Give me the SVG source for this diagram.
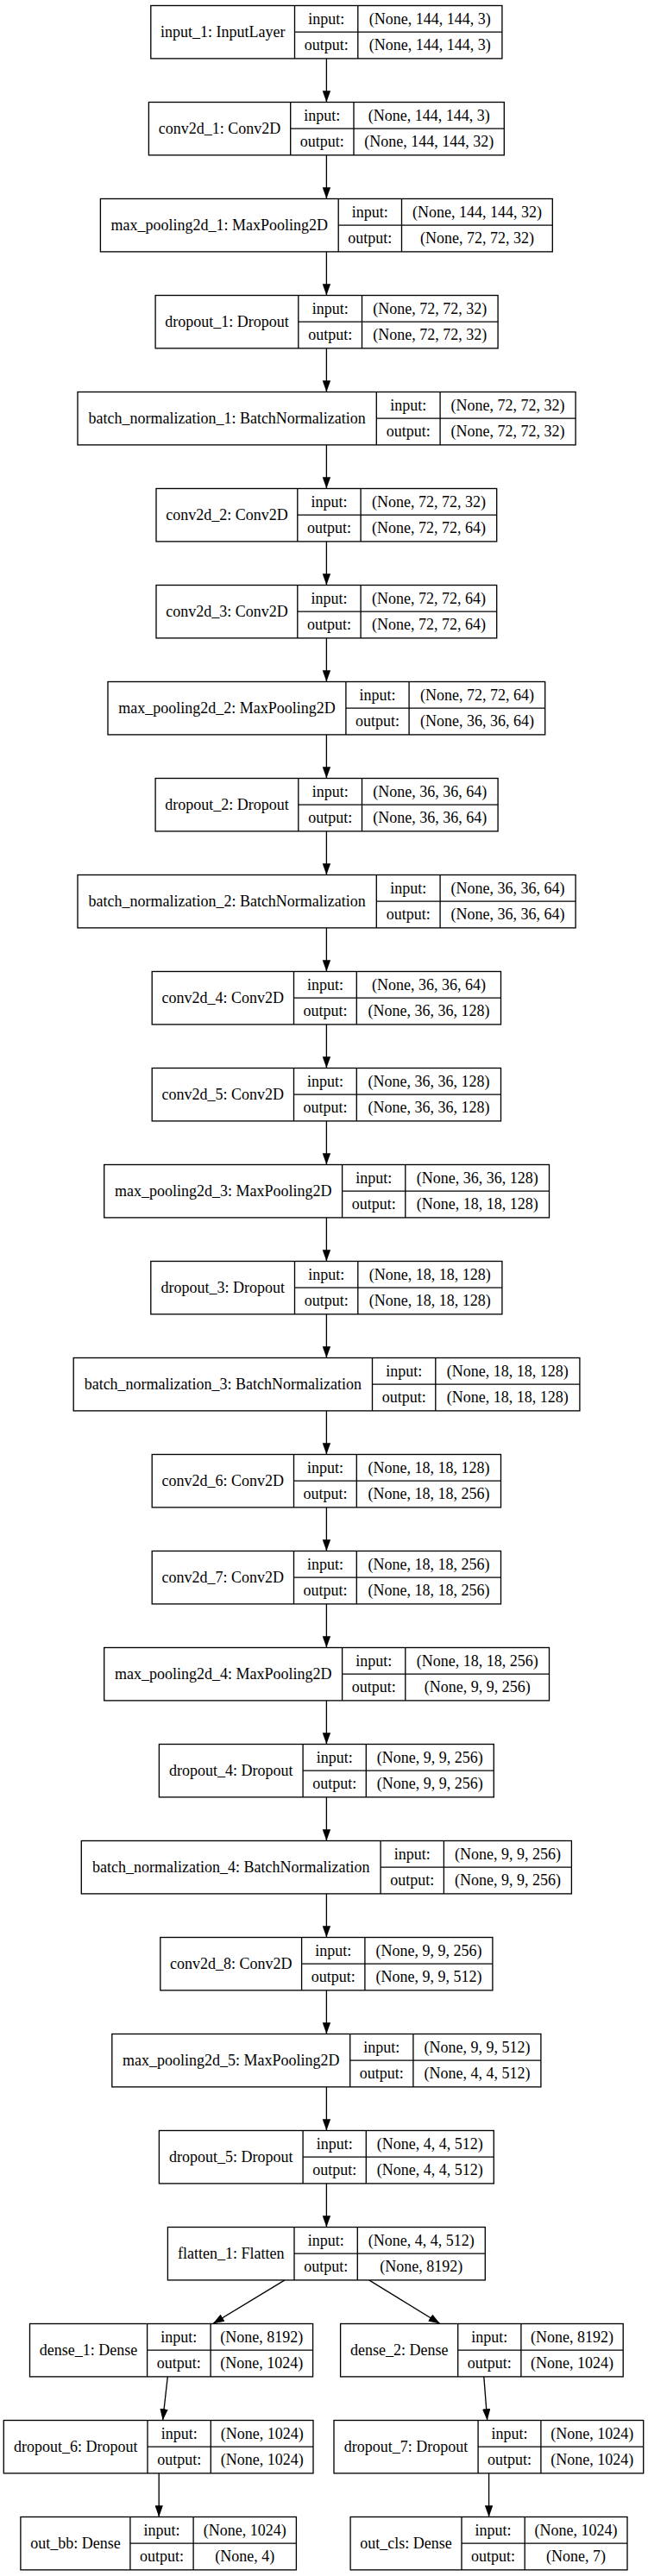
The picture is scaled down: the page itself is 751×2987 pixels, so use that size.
<svg xmlns="http://www.w3.org/2000/svg" width="751" height="2987" viewBox="0 0 751 2987">
<defs>
<style>
.b{fill:#fff;stroke:#000;stroke-width:1.33}
.l{fill:none;stroke:#000;stroke-width:1.33}
.t{font-family:"Liberation Serif","Times New Roman",serif;font-size:18px;text-anchor:middle;fill:#000}
.e{stroke:#000;stroke-width:1.33;fill:none;marker-end:url(#ah)}
</style>
<marker id="ah" markerUnits="userSpaceOnUse" markerWidth="13.3" markerHeight="9.4" refX="13.3" refY="4.7" orient="auto" viewBox="0 0 13.3 9.4"><path d="M0,0L13.3,4.7L0,9.4z" fill="#000"/></marker>
</defs>
<rect width="751" height="2987" fill="#fff"/>
<g id="connectors">
<line class="e" x1="378.4" y1="67.9" x2="378.4" y2="118.5"/>
<line class="e" x1="378.4" y1="179.9" x2="378.4" y2="230.5"/>
<line class="e" x1="378.4" y1="291.9" x2="378.4" y2="342.5"/>
<line class="e" x1="378.4" y1="403.9" x2="378.4" y2="454.5"/>
<line class="e" x1="378.4" y1="515.9" x2="378.4" y2="566.5"/>
<line class="e" x1="378.4" y1="627.9" x2="378.4" y2="678.5"/>
<line class="e" x1="378.4" y1="739.9" x2="378.4" y2="790.5"/>
<line class="e" x1="378.4" y1="851.9" x2="378.4" y2="902.5"/>
<line class="e" x1="378.4" y1="963.9" x2="378.4" y2="1014.5"/>
<line class="e" x1="378.4" y1="1075.9" x2="378.4" y2="1126.5"/>
<line class="e" x1="378.4" y1="1187.9" x2="378.4" y2="1238.5"/>
<line class="e" x1="378.4" y1="1299.9" x2="378.4" y2="1350.5"/>
<line class="e" x1="378.4" y1="1411.9" x2="378.4" y2="1462.5"/>
<line class="e" x1="378.4" y1="1523.9" x2="378.4" y2="1574.5"/>
<line class="e" x1="378.4" y1="1635.9" x2="378.4" y2="1686.5"/>
<line class="e" x1="378.4" y1="1747.9" x2="378.4" y2="1798.5"/>
<line class="e" x1="378.4" y1="1859.9" x2="378.4" y2="1910.5"/>
<line class="e" x1="378.4" y1="1971.9" x2="378.4" y2="2022.5"/>
<line class="e" x1="378.4" y1="2083.9" x2="378.4" y2="2134.5"/>
<line class="e" x1="378.4" y1="2195.9" x2="378.4" y2="2246.5"/>
<line class="e" x1="378.4" y1="2307.9" x2="378.4" y2="2358.5"/>
<line class="e" x1="378.4" y1="2419.9" x2="378.4" y2="2470.5"/>
<line class="e" x1="378.4" y1="2531.9" x2="378.4" y2="2582.5"/>
<line class="e" x1="330" y1="2643.9" x2="246.7" y2="2694.5"/>
<line class="e" x1="427.7" y1="2643.9" x2="510" y2="2694.5"/>
<line class="e" x1="194.3" y1="2755.9" x2="188.6" y2="2806.5"/>
<line class="e" x1="560.8" y1="2755.9" x2="564.7" y2="2806.5"/>
<line class="e" x1="184.2" y1="2867.9" x2="184.2" y2="2918.5"/>
<line class="e" x1="566.6" y1="2867.9" x2="566.6" y2="2918.5"/>
</g>
<g id="input_1" transform="translate(0,6.5)">
<rect class="b" x="174.8" y="0" width="407.1" height="61.4"/>
<path class="l" d="M341.5,0V61.4M414.8,0V61.4M341.5,30.7H581.9"/>
<text class="t" x="258.15" y="36.5">input_1: InputLayer</text>
<text class="t" x="378.15" y="21">input:</text><text class="t" x="378.15" y="51.7">output:</text>
<text class="t" x="498.35" y="21">(None, 144, 144, 3)</text><text class="t" x="498.35" y="51.7">(None, 144, 144, 3)</text>
</g>
<g id="conv2d_1" transform="translate(0,118.5)">
<rect class="b" x="172.4" y="0" width="411.9" height="61.4"/>
<path class="l" d="M336.7,0V61.4M410,0V61.4M336.7,30.7H584.3"/>
<text class="t" x="254.55" y="36.5">conv2d_1: Conv2D</text>
<text class="t" x="373.35" y="21">input:</text><text class="t" x="373.35" y="51.7">output:</text>
<text class="t" x="497.15" y="21">(None, 144, 144, 3)</text><text class="t" x="497.15" y="51.7">(None, 144, 144, 32)</text>
</g>
<g id="max_pooling2d_1" transform="translate(0,230.5)">
<rect class="b" x="116.4" y="0" width="523.9" height="61.4"/>
<path class="l" d="M392.2,0V61.4M465.5,0V61.4M392.2,30.7H640.3"/>
<text class="t" x="254.3" y="36.5">max_pooling2d_1: MaxPooling2D</text>
<text class="t" x="428.85" y="21">input:</text><text class="t" x="428.85" y="51.7">output:</text>
<text class="t" x="552.9" y="21">(None, 144, 144, 32)</text><text class="t" x="552.9" y="51.7">(None, 72, 72, 32)</text>
</g>
<g id="dropout_1" transform="translate(0,342.5)">
<rect class="b" x="180.1" y="0" width="397" height="61.4"/>
<path class="l" d="M345.8,0V61.4M419.5,0V61.4M345.8,30.7H577.1"/>
<text class="t" x="262.95" y="36.5">dropout_1: Dropout</text>
<text class="t" x="382.65" y="21">input:</text><text class="t" x="382.65" y="51.7">output:</text>
<text class="t" x="498.3" y="21">(None, 72, 72, 32)</text><text class="t" x="498.3" y="51.7">(None, 72, 72, 32)</text>
</g>
<g id="batch_normalization_1" transform="translate(0,454.5)">
<rect class="b" x="90" y="0" width="577.1" height="61.4"/>
<path class="l" d="M436.3,0V61.4M510.1,0V61.4M436.3,30.7H667.1"/>
<text class="t" x="263.15" y="36.5">batch_normalization_1: BatchNormalization</text>
<text class="t" x="473.2" y="21">input:</text><text class="t" x="473.2" y="51.7">output:</text>
<text class="t" x="588.6" y="21">(None, 72, 72, 32)</text><text class="t" x="588.6" y="51.7">(None, 72, 72, 32)</text>
</g>
<g id="conv2d_2" transform="translate(0,566.5)">
<rect class="b" x="181" y="0" width="394.7" height="61.4"/>
<path class="l" d="M344.8,0V61.4M418.1,0V61.4M344.8,30.7H575.7"/>
<text class="t" x="262.9" y="36.5">conv2d_2: Conv2D</text>
<text class="t" x="381.45" y="21">input:</text><text class="t" x="381.45" y="51.7">output:</text>
<text class="t" x="496.9" y="21">(None, 72, 72, 32)</text><text class="t" x="496.9" y="51.7">(None, 72, 72, 64)</text>
</g>
<g id="conv2d_3" transform="translate(0,678.5)">
<rect class="b" x="181" y="0" width="394.7" height="61.4"/>
<path class="l" d="M344.8,0V61.4M418.1,0V61.4M344.8,30.7H575.7"/>
<text class="t" x="262.9" y="36.5">conv2d_3: Conv2D</text>
<text class="t" x="381.45" y="21">input:</text><text class="t" x="381.45" y="51.7">output:</text>
<text class="t" x="496.9" y="21">(None, 72, 72, 64)</text><text class="t" x="496.9" y="51.7">(None, 72, 72, 64)</text>
</g>
<g id="max_pooling2d_2" transform="translate(0,790.5)">
<rect class="b" x="125" y="0" width="506.7" height="61.4"/>
<path class="l" d="M400.9,0V61.4M474.1,0V61.4M400.9,30.7H631.7"/>
<text class="t" x="262.95" y="36.5">max_pooling2d_2: MaxPooling2D</text>
<text class="t" x="437.5" y="21">input:</text><text class="t" x="437.5" y="51.7">output:</text>
<text class="t" x="552.9" y="21">(None, 72, 72, 64)</text><text class="t" x="552.9" y="51.7">(None, 36, 36, 64)</text>
</g>
<g id="dropout_2" transform="translate(0,902.5)">
<rect class="b" x="180.1" y="0" width="397" height="61.4"/>
<path class="l" d="M345.8,0V61.4M419.5,0V61.4M345.8,30.7H577.1"/>
<text class="t" x="262.95" y="36.5">dropout_2: Dropout</text>
<text class="t" x="382.65" y="21">input:</text><text class="t" x="382.65" y="51.7">output:</text>
<text class="t" x="498.3" y="21">(None, 36, 36, 64)</text><text class="t" x="498.3" y="51.7">(None, 36, 36, 64)</text>
</g>
<g id="batch_normalization_2" transform="translate(0,1014.5)">
<rect class="b" x="90" y="0" width="577.1" height="61.4"/>
<path class="l" d="M436.3,0V61.4M510.1,0V61.4M436.3,30.7H667.1"/>
<text class="t" x="263.15" y="36.5">batch_normalization_2: BatchNormalization</text>
<text class="t" x="473.2" y="21">input:</text><text class="t" x="473.2" y="51.7">output:</text>
<text class="t" x="588.6" y="21">(None, 36, 36, 64)</text><text class="t" x="588.6" y="51.7">(None, 36, 36, 64)</text>
</g>
<g id="conv2d_4" transform="translate(0,1126.5)">
<rect class="b" x="176.2" y="0" width="404.3" height="61.4"/>
<path class="l" d="M340.5,0V61.4M413.3,0V61.4M340.5,30.7H580.5"/>
<text class="t" x="258.35" y="36.5">conv2d_4: Conv2D</text>
<text class="t" x="376.9" y="21">input:</text><text class="t" x="376.9" y="51.7">output:</text>
<text class="t" x="496.9" y="21">(None, 36, 36, 64)</text><text class="t" x="496.9" y="51.7">(None, 36, 36, 128)</text>
</g>
<g id="conv2d_5" transform="translate(0,1238.5)">
<rect class="b" x="176.2" y="0" width="404.3" height="61.4"/>
<path class="l" d="M340.5,0V61.4M413.3,0V61.4M340.5,30.7H580.5"/>
<text class="t" x="258.35" y="36.5">conv2d_5: Conv2D</text>
<text class="t" x="376.9" y="21">input:</text><text class="t" x="376.9" y="51.7">output:</text>
<text class="t" x="496.9" y="21">(None, 36, 36, 128)</text><text class="t" x="496.9" y="51.7">(None, 36, 36, 128)</text>
</g>
<g id="max_pooling2d_3" transform="translate(0,1350.5)">
<rect class="b" x="120.7" y="0" width="515.8" height="61.4"/>
<path class="l" d="M396.6,0V61.4M469.8,0V61.4M396.6,30.7H636.5"/>
<text class="t" x="258.65" y="36.5">max_pooling2d_3: MaxPooling2D</text>
<text class="t" x="433.2" y="21">input:</text><text class="t" x="433.2" y="51.7">output:</text>
<text class="t" x="553.15" y="21">(None, 36, 36, 128)</text><text class="t" x="553.15" y="51.7">(None, 18, 18, 128)</text>
</g>
<g id="dropout_3" transform="translate(0,1462.5)">
<rect class="b" x="174.8" y="0" width="407.1" height="61.4"/>
<path class="l" d="M341.5,0V61.4M414.8,0V61.4M341.5,30.7H581.9"/>
<text class="t" x="258.15" y="36.5">dropout_3: Dropout</text>
<text class="t" x="378.15" y="21">input:</text><text class="t" x="378.15" y="51.7">output:</text>
<text class="t" x="498.35" y="21">(None, 18, 18, 128)</text><text class="t" x="498.35" y="51.7">(None, 18, 18, 128)</text>
</g>
<g id="batch_normalization_3" transform="translate(0,1574.5)">
<rect class="b" x="85.2" y="0" width="586.7" height="61.4"/>
<path class="l" d="M431.5,0V61.4M504.8,0V61.4M431.5,30.7H671.9"/>
<text class="t" x="258.35" y="36.5">batch_normalization_3: BatchNormalization</text>
<text class="t" x="468.15" y="21">input:</text><text class="t" x="468.15" y="51.7">output:</text>
<text class="t" x="588.35" y="21">(None, 18, 18, 128)</text><text class="t" x="588.35" y="51.7">(None, 18, 18, 128)</text>
</g>
<g id="conv2d_6" transform="translate(0,1686.5)">
<rect class="b" x="176.2" y="0" width="404.3" height="61.4"/>
<path class="l" d="M340.5,0V61.4M413.3,0V61.4M340.5,30.7H580.5"/>
<text class="t" x="258.35" y="36.5">conv2d_6: Conv2D</text>
<text class="t" x="376.9" y="21">input:</text><text class="t" x="376.9" y="51.7">output:</text>
<text class="t" x="496.9" y="21">(None, 18, 18, 128)</text><text class="t" x="496.9" y="51.7">(None, 18, 18, 256)</text>
</g>
<g id="conv2d_7" transform="translate(0,1798.5)">
<rect class="b" x="176.2" y="0" width="404.3" height="61.4"/>
<path class="l" d="M340.5,0V61.4M413.3,0V61.4M340.5,30.7H580.5"/>
<text class="t" x="258.35" y="36.5">conv2d_7: Conv2D</text>
<text class="t" x="376.9" y="21">input:</text><text class="t" x="376.9" y="51.7">output:</text>
<text class="t" x="496.9" y="21">(None, 18, 18, 256)</text><text class="t" x="496.9" y="51.7">(None, 18, 18, 256)</text>
</g>
<g id="max_pooling2d_4" transform="translate(0,1910.5)">
<rect class="b" x="120.7" y="0" width="515.8" height="61.4"/>
<path class="l" d="M396.6,0V61.4M469.8,0V61.4M396.6,30.7H636.5"/>
<text class="t" x="258.65" y="36.5">max_pooling2d_4: MaxPooling2D</text>
<text class="t" x="433.2" y="21">input:</text><text class="t" x="433.2" y="51.7">output:</text>
<text class="t" x="553.15" y="21">(None, 18, 18, 256)</text><text class="t" x="553.15" y="51.7">(None, 9, 9, 256)</text>
</g>
<g id="dropout_4" transform="translate(0,2022.5)">
<rect class="b" x="184.4" y="0" width="387.9" height="61.4"/>
<path class="l" d="M351.1,0V61.4M424.3,0V61.4M351.1,30.7H572.3"/>
<text class="t" x="267.75" y="36.5">dropout_4: Dropout</text>
<text class="t" x="387.7" y="21">input:</text><text class="t" x="387.7" y="51.7">output:</text>
<text class="t" x="498.3" y="21">(None, 9, 9, 256)</text><text class="t" x="498.3" y="51.7">(None, 9, 9, 256)</text>
</g>
<g id="batch_normalization_4" transform="translate(0,2134.5)">
<rect class="b" x="94.3" y="0" width="568.1" height="61.4"/>
<path class="l" d="M441.1,0V61.4M514.4,0V61.4M441.1,30.7H662.4"/>
<text class="t" x="267.7" y="36.5">batch_normalization_4: BatchNormalization</text>
<text class="t" x="477.75" y="21">input:</text><text class="t" x="477.75" y="51.7">output:</text>
<text class="t" x="588.4" y="21">(None, 9, 9, 256)</text><text class="t" x="588.4" y="51.7">(None, 9, 9, 256)</text>
</g>
<g id="conv2d_8" transform="translate(0,2246.5)">
<rect class="b" x="185.8" y="0" width="385.1" height="61.4"/>
<path class="l" d="M349.6,0V61.4M422.9,0V61.4M349.6,30.7H570.9"/>
<text class="t" x="267.7" y="36.5">conv2d_8: Conv2D</text>
<text class="t" x="386.25" y="21">input:</text><text class="t" x="386.25" y="51.7">output:</text>
<text class="t" x="496.9" y="21">(None, 9, 9, 256)</text><text class="t" x="496.9" y="51.7">(None, 9, 9, 512)</text>
</g>
<g id="max_pooling2d_5" transform="translate(0,2358.5)">
<rect class="b" x="129.8" y="0" width="497.1" height="61.4"/>
<path class="l" d="M405.7,0V61.4M478.9,0V61.4M405.7,30.7H626.9"/>
<text class="t" x="267.75" y="36.5">max_pooling2d_5: MaxPooling2D</text>
<text class="t" x="442.3" y="21">input:</text><text class="t" x="442.3" y="51.7">output:</text>
<text class="t" x="552.9" y="21">(None, 9, 9, 512)</text><text class="t" x="552.9" y="51.7">(None, 4, 4, 512)</text>
</g>
<g id="dropout_5" transform="translate(0,2470.5)">
<rect class="b" x="184.4" y="0" width="387.9" height="61.4"/>
<path class="l" d="M351.1,0V61.4M424.3,0V61.4M351.1,30.7H572.3"/>
<text class="t" x="267.75" y="36.5">dropout_5: Dropout</text>
<text class="t" x="387.7" y="21">input:</text><text class="t" x="387.7" y="51.7">output:</text>
<text class="t" x="498.3" y="21">(None, 4, 4, 512)</text><text class="t" x="498.3" y="51.7">(None, 4, 4, 512)</text>
</g>
<g id="flatten_1" transform="translate(0,2582.5)">
<rect class="b" x="194.4" y="0" width="367.9" height="61.4"/>
<path class="l" d="M341,0V61.4M414.3,0V61.4M341,30.7H562.3"/>
<text class="t" x="267.7" y="36.5">flatten_1: Flatten</text>
<text class="t" x="377.65" y="21">input:</text><text class="t" x="377.65" y="51.7">output:</text>
<text class="t" x="488.3" y="21">(None, 4, 4, 512)</text><text class="t" x="488.3" y="51.7">(None, 8192)</text>
</g>
<g id="dense_1" transform="translate(0,2694.5)">
<rect class="b" x="34.5" y="0" width="328.1" height="61.4"/>
<path class="l" d="M170.6,0V61.4M244.1,0V61.4M170.6,30.7H362.6"/>
<text class="t" x="102.55" y="36.5">dense_1: Dense</text>
<text class="t" x="207.35" y="21">input:</text><text class="t" x="207.35" y="51.7">output:</text>
<text class="t" x="303.35" y="21">(None, 8192)</text><text class="t" x="303.35" y="51.7">(None, 1024)</text>
</g>
<g id="dense_2" transform="translate(0,2694.5)">
<rect class="b" x="394.6" y="0" width="327.6" height="61.4"/>
<path class="l" d="M530.7,0V61.4M603.9,0V61.4M530.7,30.7H722.2"/>
<text class="t" x="462.65" y="36.5">dense_2: Dense</text>
<text class="t" x="567.3" y="21">input:</text><text class="t" x="567.3" y="51.7">output:</text>
<text class="t" x="663.05" y="21">(None, 8192)</text><text class="t" x="663.05" y="51.7">(None, 1024)</text>
</g>
<g id="dropout_6" transform="translate(0,2806.5)">
<rect class="b" x="4.3" y="0" width="358.7" height="61.4"/>
<path class="l" d="M171,0V61.4M244.3,0V61.4M171,30.7H363"/>
<text class="t" x="87.65" y="36.5">dropout_6: Dropout</text>
<text class="t" x="207.65" y="21">input:</text><text class="t" x="207.65" y="51.7">output:</text>
<text class="t" x="303.65" y="21">(None, 1024)</text><text class="t" x="303.65" y="51.7">(None, 1024)</text>
</g>
<g id="dropout_7" transform="translate(0,2806.5)">
<rect class="b" x="387" y="0" width="358.7" height="61.4"/>
<path class="l" d="M554.1,0V61.4M626.9,0V61.4M554.1,30.7H745.7"/>
<text class="t" x="470.55" y="36.5">dropout_7: Dropout</text>
<text class="t" x="590.5" y="21">input:</text><text class="t" x="590.5" y="51.7">output:</text>
<text class="t" x="686.3" y="21">(None, 1024)</text><text class="t" x="686.3" y="51.7">(None, 1024)</text>
</g>
<g id="out_bb" transform="translate(0,2918.5)">
<rect class="b" x="23.9" y="0" width="319.5" height="61.4"/>
<path class="l" d="M150.9,0V61.4M224.1,0V61.4M150.9,30.7H343.4"/>
<text class="t" x="87.4" y="36.5">out_bb: Dense</text>
<text class="t" x="187.5" y="21">input:</text><text class="t" x="187.5" y="51.7">output:</text>
<text class="t" x="283.75" y="21">(None, 1024)</text><text class="t" x="283.75" y="51.7">(None, 4)</text>
</g>
<g id="out_cls" transform="translate(0,2918.5)">
<rect class="b" x="406.1" y="0" width="320.9" height="61.4"/>
<path class="l" d="M535,0V61.4M608.2,0V61.4M535,30.7H727"/>
<text class="t" x="470.55" y="36.5">out_cls: Dense</text>
<text class="t" x="571.6" y="21">input:</text><text class="t" x="571.6" y="51.7">output:</text>
<text class="t" x="667.6" y="21">(None, 1024)</text><text class="t" x="667.6" y="51.7">(None, 7)</text>
</g>
</svg>
